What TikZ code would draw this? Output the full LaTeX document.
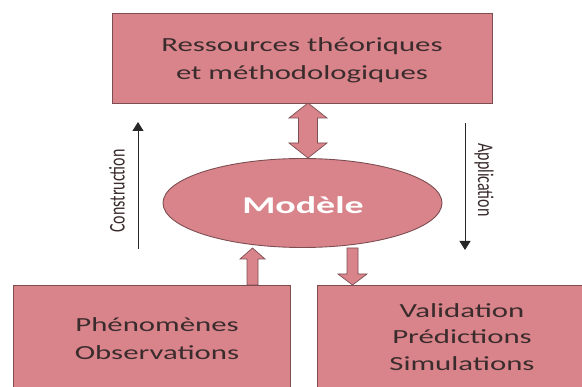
\documentclass[tikz,border=0pt]{standalone}
\usepackage{fontspec}
\setmainfont{Carlito}
\usetikzlibrary{shapes.geometric,arrows.meta}
\definecolor{boxfill}{HTML}{D9848B}
\definecolor{boxline}{HTML}{7C4E52}
\definecolor{txt}{HTML}{3A2C2C}
\tikzset{
  box/.style={draw=boxline, line width=0.9pt, fill=boxfill},
  boxtext/.style={text=txt, align=center, font=\fontsize{20}{28}\selectfont, xscale=1.54},
  blockarrow/.style={draw=boxline, line width=0.7pt, fill=boxfill, line join=miter},
  thinarrow/.style={draw=black!85, line width=0.9pt, -{Triangle[length=9pt,width=11pt]}},
  sidelabel/.style={text=txt, font=\fontsize{16}{18}\selectfont}
}
\begin{document}
\begin{tikzpicture}[x=1pt,y=-1pt]
\useasboundingbox (0,0) rectangle (582,387);
% top box
\draw[box] (112,13) rectangle (492,103);
\node[boxtext] (top) at (302,60) {Ressources théoriques\\et méthodologiques};
% bottom boxes
\draw[box] (13,285) rectangle (290,400);
\node[boxtext] (left) at (157,339) {Phénomènes\\Observations};
\draw[box] (317,285) rectangle (590,400);
\node[boxtext, font=\fontsize{20}{26.5}\selectfont] (right) at (462,337) {Validation\\Prédictions\\Simulations};
% ellipse
\node[ellipse, draw=boxline, line width=0.9pt, fill=boxfill, minimum width=279pt, minimum height=89pt, inner sep=0pt] (model) at (302.5,203) {};
\node[text=white, font=\bfseries\fontsize{24}{28}\selectfont, xscale=1.58] (modtxt) at (303,205) {Modèle};
% double block arrow
\draw[blockarrow] (308,103) -- (327,118) -- (317.5,118) -- (317.5,143) -- (327,143) -- (308,158) -- (289,143) -- (298.5,143) -- (298.5,118) -- (289,118) -- cycle;
% up block arrow
\draw[blockarrow] (252.5,248) -- (265,259) -- (258,259) -- (258,285) -- (247,285) -- (247,259) -- (240,259) -- cycle;
% down block arrow
\draw[blockarrow] (347,248) -- (358,248) -- (358,274) -- (367,274) -- (352.5,285) -- (338,274) -- (347,274) -- cycle;
% thin arrows
\coordinate (cb) at (138,249);
\coordinate (ct) at (138,122);
\coordinate (at) at (465,123);
\coordinate (ab) at (465,250);
\draw[thinarrow] (cb) -- (ct);
\draw[thinarrow] (at) -- (ab);
\node[sidelabel, xscale=1.4, rotate=90] (clab) at (117,191) {Construction};
\node[sidelabel, xscale=1.4, rotate=-90] (alab) at (484,180) {Application};
\end{tikzpicture}
\end{document}
